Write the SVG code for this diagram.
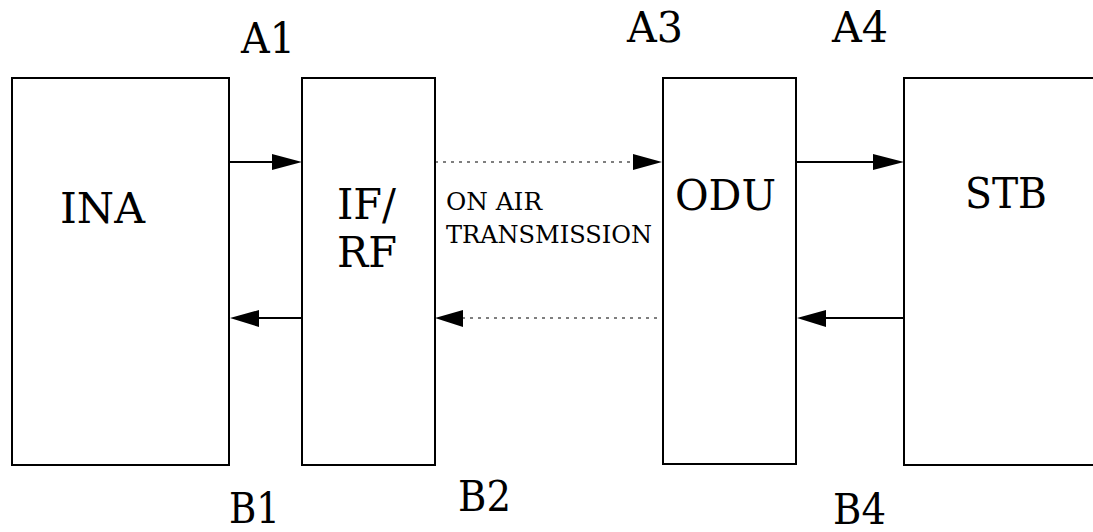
<svg xmlns="http://www.w3.org/2000/svg" width="1093" height="532" viewBox="0 0 1093 532">
<style>
.box{fill:#fff;stroke:#000;stroke-width:2}
text{font-family:'DejaVu Serif', serif;fill:#000}
.lbl{font-size:43px}
.big{font-size:43px}
.small{font-size:24px}
.solid{stroke:#000;stroke-width:2;fill:none}
.dot{stroke:#000;stroke-width:1.2;stroke-dasharray:3 5;fill:none}
.head{fill:#000;stroke:none}
</style>
<rect width="1093" height="532" fill="#fff"/>
<g id="node-ina"><rect class="box" x="12" y="78" width="217" height="387"/><text class="big" x="60" y="223" textLength="85" lengthAdjust="spacingAndGlyphs">INA</text></g>
<g id="node-ifrf"><rect class="box" x="302" y="78" width="133" height="387"/><text class="big" x="337" y="219" textLength="59" lengthAdjust="spacingAndGlyphs">IF/</text><text class="big" x="337" y="267" textLength="60" lengthAdjust="spacingAndGlyphs">RF</text></g>
<g id="node-odu"><rect class="box" x="663" y="78" width="133" height="386"/><text class="big" x="675" y="210" textLength="101" lengthAdjust="spacingAndGlyphs">ODU</text></g>
<g id="node-stb"><rect class="box" x="904" y="78" width="200" height="387"/><text class="big" x="965" y="208" textLength="82" lengthAdjust="spacingAndGlyphs">STB</text></g>
<g id="connectors">
<line class="solid" x1="229" y1="162" x2="274" y2="162"/><polygon class="head" points="302,162 272,154 272,170"/>
<line class="solid" x1="258" y1="318" x2="302" y2="318"/><polygon class="head" points="230,318 259,310 259,327"/>
<line class="dot" x1="435" y1="162" x2="634" y2="162"/><polygon class="head" points="662,162 633,154 633,170"/>
<line class="dot" x1="462" y1="318" x2="663" y2="318"/><polygon class="head" points="435,318 463,310 463,327"/>
<line class="solid" x1="796" y1="162" x2="875" y2="162"/><polygon class="head" points="904,162 873,154 873,170"/>
<line class="solid" x1="824" y1="318" x2="904" y2="318"/><polygon class="head" points="797,318 826,310 826,327"/>
</g>
<g id="labels">
<text class="lbl" x="241" y="53" textLength="54" lengthAdjust="spacingAndGlyphs">A1</text>
<text class="lbl" x="627" y="42" textLength="56" lengthAdjust="spacingAndGlyphs">A3</text>
<text class="lbl" x="832" y="42" textLength="56" lengthAdjust="spacingAndGlyphs">A4</text>
<text class="lbl" x="229" y="523" textLength="51" lengthAdjust="spacingAndGlyphs">B1</text>
<text class="lbl" x="458" y="511" textLength="53" lengthAdjust="spacingAndGlyphs">B2</text>
<text class="lbl" x="833" y="524" textLength="53" lengthAdjust="spacingAndGlyphs">B4</text>
<text class="small" x="446" y="210" textLength="96" lengthAdjust="spacingAndGlyphs">ON AIR</text>
<text class="small" x="446" y="243" textLength="206" lengthAdjust="spacingAndGlyphs">TRANSMISSION</text>
</g>
</svg>
